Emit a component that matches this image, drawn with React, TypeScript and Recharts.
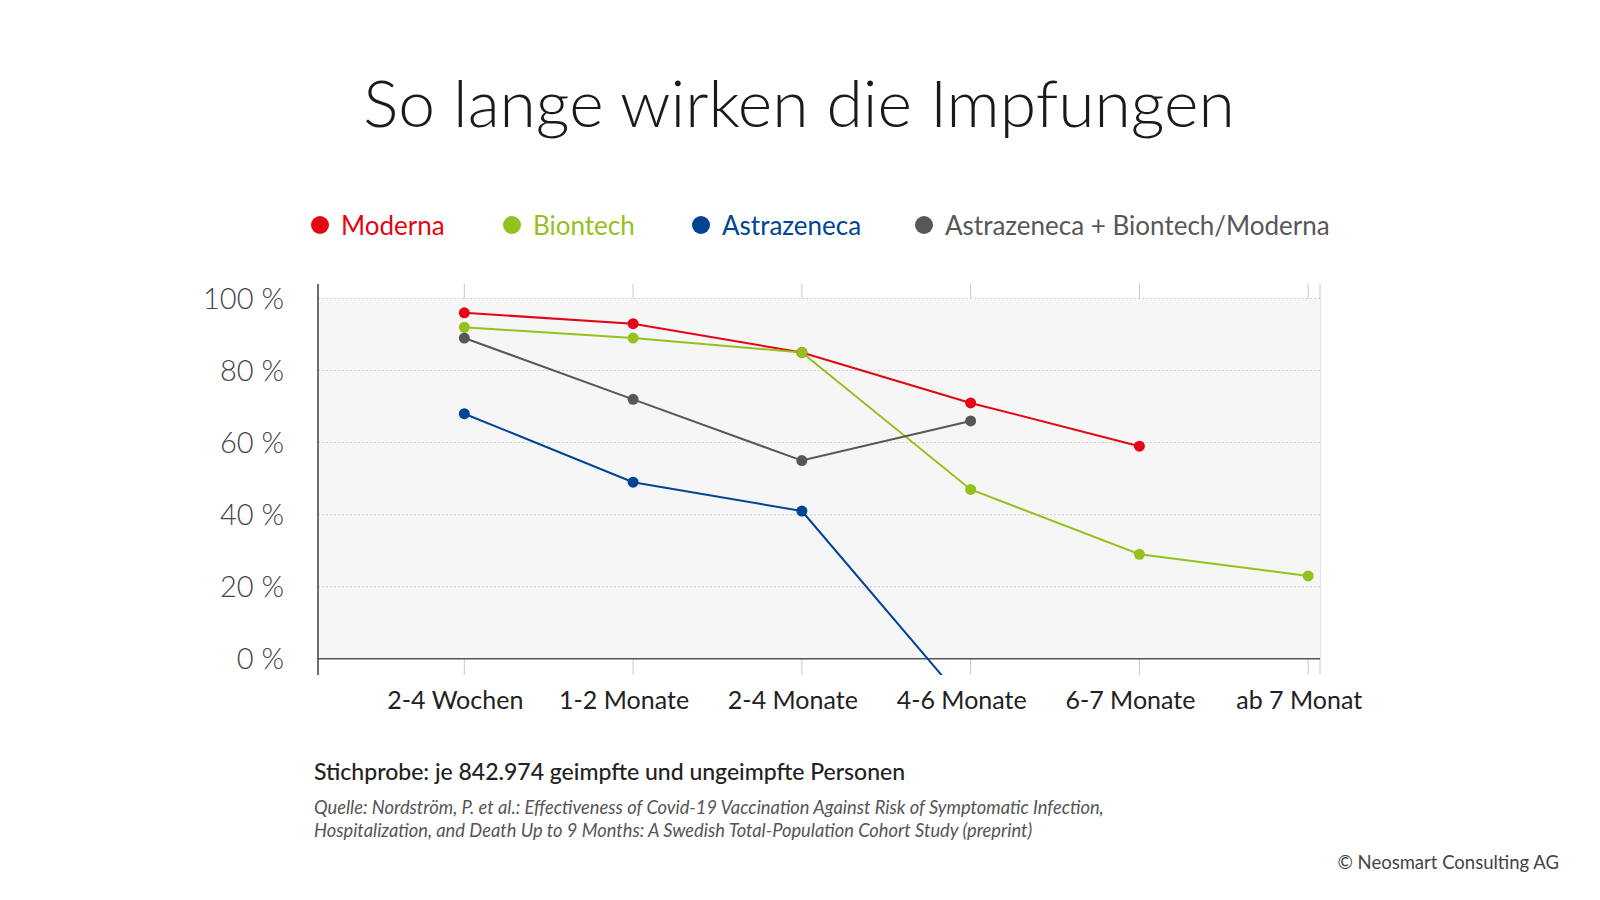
import React from "react";
import { ComposedChart, Line, XAxis, YAxis, CartesianGrid, ReferenceLine, ReferenceArea } from "recharts";

const categories = ["2-4 Wochen", "1-2 Monate", "2-4 Monate", "4-6 Monate", "6-7 Monate", "ab 7 Monat"];
const moderna = [96, 93, 85, 71, 59, null];
const biontech = [92, 89, 85, 47, 29, 23];
const astrazeneca = [68, 49, 41, -14, null, null];
const mixed = [89, 72, 55, 66, null, null];
const yTicks = [0, 20, 40, 60, 80, 100];

const data = categories.map((c, i) => ({ x: i, name: c, moderna: moderna[i], biontech: biontech[i], astrazeneca: astrazeneca[i], mixed: mixed[i] }));

const series = [
  { key: "moderna", label: "Moderna", color: "#e30613", text: "#e30613" },
  { key: "biontech", label: "Biontech", color: "#95c11f", text: "#95c11f" },
  { key: "astrazeneca", label: "Astrazeneca", color: "#004494", text: "#004494" },
  { key: "mixed", label: "Astrazeneca + Biontech/Moderna", color: "#575757", text: "#575757" },
];

const font = "Lato, 'Open Sans', sans-serif";
const X0 = -0.867, X1 = 5.07;

const makeDot = (color: string) => (p: any) => {
  if (p.value == null || p.value < 0) return <g key={p.key} />;
  return <circle key={p.key} cx={p.cx} cy={p.cy} r={5.5} fill={color} />;
};

export default function App() {
  return (
    <div style={{ position: "absolute", left: 0, top: 0, width: 1600, height: 900, background: "#fff", fontFamily: font, overflow: "hidden" }}>
      <div style={{ position: "absolute", left: 0, width: 1598, top: 62, textAlign: "center", fontSize: 66, color: "#1a1a1a", fontWeight: 300 }}>So lange wirken die Impfungen</div>
      {series.map((s, i) => {
        const lefts = [311, 503, 692, 915];
        return (
          <div key={s.key} style={{ position: "absolute", left: lefts[i], top: 209, display: "flex", alignItems: "center", fontSize: 26, color: s.text }}>
            <span style={{ width: 18, height: 18, borderRadius: 9, background: s.color, display: "inline-block", marginRight: 12 }} />
            {s.label}
          </div>
        );
      })}
      <div style={{ position: "absolute", left: 0, top: 0 }}>
        <ComposedChart width={1600} height={900} data={data} margin={{ top: 284, bottom: 185, left: 258, right: 280 }}>
          <ReferenceArea x1={X0} x2={X1} y1={0} y2={100} fill="#f6f6f6" fillOpacity={1} stroke="none" />
          <CartesianGrid horizontal={false} stroke="#c8c8c8" />
          {[20, 40, 60, 80, 100].map((v) => (
            <ReferenceLine key={v} y={v} stroke="#cfcfcf" strokeDasharray="2 2" />
          ))}
          <XAxis type="number" dataKey="x" domain={[X0, X1]} ticks={[0, 1, 2, 3, 4, 5]} tickFormatter={(v) => categories[v]} axisLine={false} tickLine={false} height={40} tick={{ fontSize: 25, fill: "#222", fontFamily: font, dx: -9, dy: 8 }} allowDataOverflow />
          <YAxis type="number" domain={[-4.5, 104]} ticks={yTicks} tickFormatter={(v) => `${v} %`} width={60} axisLine={{ stroke: "#444", strokeWidth: 1.5 }} tickLine={false} tick={{ fontSize: 29, fill: "#444", fontFamily: font, fontWeight: 300, dx: -26 }} allowDataOverflow />
          <ReferenceLine y={0} stroke="#555" strokeWidth={1.5} />
          {series.map((s) => (
            <Line key={s.key} type="linear" dataKey={s.key} stroke={s.color} strokeWidth={2} dot={makeDot(s.color)} isAnimationActive={false} connectNulls={false} />
          ))}
        </ComposedChart>
      </div>
      <div style={{ position: "absolute", left: 314, top: 757, fontSize: 23, color: "#222", fontWeight: 500 }}>Stichprobe: je 842.974 geimpfte und ungeimpfte Personen</div>
      <div style={{ position: "absolute", left: 314, top: 796, fontSize: 18.3, color: "#555", fontStyle: "italic", lineHeight: "23px" }}>
        Quelle: Nordström, P. et al.: Effectiveness of Covid-19 Vaccination Against Risk of Symptomatic Infection,<br />
        Hospitalization, and Death Up to 9 Months: A Swedish Total-Population Cohort Study (preprint)
      </div>
      <div style={{ position: "absolute", right: 41, top: 851, fontSize: 18.5, color: "#444" }}>© Neosmart Consulting AG</div>
    </div>
  );
}
